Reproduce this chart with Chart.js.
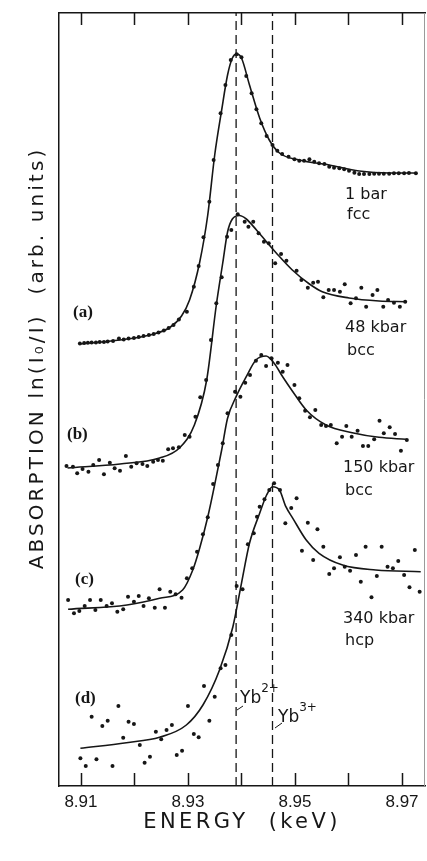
<!DOCTYPE html>
<html>
<head>
<meta charset="utf-8">
<script src="https://cdn.jsdelivr.net/npm/chart.js@4.4.1/dist/chart.umd.min.js"></script>
<style>
  html, body { margin: 0; padding: 0; background: #fff; }
</style>
</head>
<body>
<canvas id="myChart" width="427" height="861"></canvas>
<script>
// energy axis (keV)
var energyMin = 8.9059, energyMax = 8.9743;
var tickEnergies = [8.91, 8.92, 8.93, 8.94, 8.95, 8.96, 8.97];
var tickLabels = ['8.91', '', '8.93', '', '8.95', '', '8.97'];
var yMax = 77.3;

// Yb2+ / Yb3+ reference energies
var yb2Energy = 8.9390;
var yb3Energy = 8.9458;

var curveLetters = ['(a)', '(b)', '(c)', '(d)'];
var pressureLabels = [['1 bar', 'fcc'], ['48 kbar', 'bcc'], ['150 kbar', 'bcc'], ['340 kbar', 'hcp']];

// (a) 1 bar, fcc  -- measured points [keV, arb]
var dotsA = [
    [8.9098, 44.25], [8.9106, 44.3], [8.9113, 44.32], [8.9120, 44.35], [8.9128, 44.35], [8.9135, 44.4],
    [8.9143, 44.4], [8.9150, 44.45], [8.9160, 44.5], [8.9171, 44.75], [8.9180, 44.65], [8.9189, 44.75],
    [8.9199, 44.8], [8.9208, 44.9], [8.9217, 45.0], [8.9227, 45.1], [8.9236, 45.2], [8.9245, 45.35],
    [8.9255, 45.55], [8.9264, 45.8], [8.9273, 46.1], [8.9283, 46.65], [8.9298, 47.43], [8.9311, 49.93],
    [8.9320, 52.0], [8.9329, 54.87], [8.9340, 58.43], [8.9348, 62.6], [8.9361, 67.27], [8.9370, 70.1],
    [8.9380, 72.6], [8.9391, 73.17], [8.9400, 72.87], [8.9409, 71.0], [8.9419, 69.27], [8.9428, 67.67],
    [8.9437, 66.27], [8.9447, 65.0], [8.9458, 64.1], [8.9467, 63.53], [8.9476, 63.2], [8.9488, 62.93],
    [8.9499, 62.67], [8.9508, 62.53], [8.9517, 62.53], [8.9527, 62.67], [8.9536, 62.43], [8.9545, 62.27],
    [8.9555, 62.2], [8.9564, 61.93], [8.9573, 61.83], [8.9583, 61.77], [8.9592, 61.67], [8.9601, 61.53],
    [8.9611, 61.33], [8.9620, 61.2], [8.9629, 61.2], [8.9639, 61.2], [8.9648, 61.23], [8.9657, 61.23],
    [8.9666, 61.23], [8.9676, 61.23], [8.9685, 61.27], [8.9694, 61.27], [8.9704, 61.27], [8.9713, 61.3],
    [8.9726, 61.27]
];
var fitA = [
    [8.9098, 44.2], [8.9173, 44.6], [8.9229, 45.1], [8.9266, 45.85], [8.9288, 47.0], [8.9303, 48.6],
    [8.9322, 52.4], [8.9337, 57.1], [8.9350, 63.1], [8.9363, 67.6], [8.9374, 71.1], [8.9383, 72.8],
    [8.9391, 73.2], [8.9400, 72.8], [8.9415, 70.1], [8.9434, 66.8], [8.9452, 64.6], [8.9471, 63.3],
    [8.9508, 62.6], [8.9564, 62.1], [8.9620, 61.5], [8.9676, 61.3], [8.9728, 61.3]
];

// (b) 48 kbar, bcc
var dotsB = [
    [8.9073, 32.0], [8.9085, 31.93], [8.9093, 31.27], [8.9103, 31.7], [8.9114, 31.43], [8.9123, 32.1],
    [8.9134, 32.6], [8.9143, 31.17], [8.9154, 32.33], [8.9163, 31.77], [8.9173, 31.53], [8.9184, 33.0],
    [8.9194, 31.93], [8.9204, 32.27], [8.9215, 32.2], [8.9224, 32.0], [8.9235, 32.43], [8.9244, 32.6],
    [8.9253, 32.53], [8.9263, 33.67], [8.9272, 33.77], [8.9283, 33.87], [8.9294, 35.1], [8.9303, 34.93],
    [8.9314, 36.93], [8.9323, 38.87], [8.9334, 40.6], [8.9343, 44.6], [8.9353, 48.27], [8.9363, 50.87],
    [8.9373, 54.93], [8.9381, 55.6], [8.9393, 57.17], [8.9406, 56.43], [8.9413, 55.93], [8.9422, 56.43],
    [8.9432, 55.27], [8.9442, 54.43], [8.9451, 54.27], [8.9463, 52.27], [8.9474, 53.2], [8.9484, 52.53],
    [8.9503, 51.53], [8.9512, 50.6], [8.9524, 49.83], [8.9534, 50.33], [8.9543, 50.43], [8.9553, 48.87],
    [8.9563, 49.6], [8.9573, 49.6], [8.9584, 49.43], [8.9593, 50.17], [8.9604, 48.27], [8.9614, 48.77],
    [8.9624, 49.83], [8.9633, 47.93], [8.9645, 49.1], [8.9654, 49.6], [8.9665, 47.93], [8.9674, 48.6],
    [8.9685, 48.33], [8.9696, 47.93], [8.9706, 48.43]
];
var fitB = [
    [8.9075, 31.8], [8.9173, 32.2], [8.9247, 32.8], [8.9284, 33.8], [8.9312, 36.1], [8.9335, 40.6],
    [8.9353, 48.1], [8.9365, 52.3], [8.9374, 55.4], [8.9383, 56.7], [8.9396, 57.05], [8.9409, 56.7],
    [8.9428, 55.6], [8.9447, 54.4], [8.9465, 53.3], [8.9495, 51.6], [8.9527, 50.2], [8.9551, 49.43],
    [8.9601, 48.8], [8.9657, 48.5], [8.9707, 48.43]
];

// (c) 150 kbar, bcc
var dotsC = [
    [8.9076, 18.6], [8.9087, 17.27], [8.9097, 17.5], [8.9107, 18.0], [8.9117, 18.6], [8.9127, 17.6],
    [8.9137, 18.6], [8.9148, 18.0], [8.9158, 18.27], [8.9168, 17.43], [8.9179, 17.67], [8.9188, 18.93],
    [8.9199, 18.43], [8.9208, 19.0], [8.9217, 18.0], [8.9227, 18.77], [8.9238, 17.83], [8.9247, 19.67],
    [8.9257, 17.83], [8.9267, 19.43], [8.9277, 19.17], [8.9288, 18.83], [8.9298, 20.77], [8.9308, 21.77],
    [8.9317, 23.43], [8.9328, 25.17], [8.9337, 26.87], [8.9347, 30.2], [8.9356, 32.1], [8.9365, 34.27],
    [8.9374, 37.27], [8.9388, 39.43], [8.9398, 38.93], [8.9407, 40.33], [8.9416, 41.1], [8.9427, 42.53],
    [8.9437, 43.1], [8.9446, 42.0], [8.9456, 42.77], [8.9468, 42.33], [8.9477, 41.43], [8.9486, 42.1],
    [8.9499, 40.1], [8.9508, 38.77], [8.9519, 37.53], [8.9528, 36.87], [8.9538, 37.6], [8.9549, 36.1],
    [8.9558, 36.0], [8.9567, 36.1], [8.9578, 34.27], [8.9588, 34.93], [8.9596, 36.0], [8.9606, 34.93],
    [8.9617, 35.53], [8.9627, 34.0], [8.9637, 34.0], [8.9648, 34.67], [8.9658, 36.53], [8.9666, 35.27],
    [8.9677, 35.87], [8.9687, 35.2], [8.9698, 33.53], [8.9709, 34.6]
];
var fitC = [
    [8.9076, 17.67], [8.9186, 18.1], [8.9247, 18.77], [8.9290, 19.6], [8.9309, 21.6], [8.9322, 23.8],
    [8.9337, 26.9], [8.9353, 30.93], [8.9363, 33.6], [8.9374, 36.77], [8.9390, 38.93], [8.9409, 40.93],
    [8.9427, 42.6], [8.9446, 43.0], [8.9461, 42.27], [8.9477, 40.93], [8.9496, 39.43], [8.9521, 37.6],
    [8.9558, 36.1], [8.9607, 35.33], [8.9657, 34.87], [8.9707, 34.67]
];

// (d) 340 kbar, hcp
var dotsD = [
    [8.9099, 2.77], [8.9109, 2.0], [8.9120, 6.93], [8.9129, 2.67], [8.9140, 6.0], [8.9150, 6.53],
    [8.9159, 2.0], [8.9170, 8.0], [8.9179, 4.83], [8.9189, 6.43], [8.9199, 6.2], [8.9210, 4.1],
    [8.9219, 2.33], [8.9229, 2.93], [8.9240, 5.43], [8.9250, 4.67], [8.9260, 5.6], [8.9270, 6.1],
    [8.9279, 3.1], [8.9289, 3.53], [8.9300, 8.0], [8.9311, 5.2], [8.9320, 4.87], [8.9330, 10.0],
    [8.9340, 6.53], [8.9350, 8.93], [8.9361, 11.77], [8.9370, 12.1], [8.9381, 15.1], [8.9391, 20.0],
    [8.9402, 19.67], [8.9412, 24.17], [8.9423, 25.27], [8.9429, 26.93], [8.9434, 27.93], [8.9443, 28.67],
    [8.9452, 29.6], [8.9461, 30.27], [8.9472, 29.6], [8.9482, 26.27], [8.9493, 27.8], [8.9503, 28.77],
    [8.9513, 23.53], [8.9524, 26.33], [8.9534, 22.6], [8.9542, 25.67], [8.9553, 23.93], [8.9564, 21.2],
    [8.9573, 21.77], [8.9584, 22.87], [8.9593, 21.93], [8.9603, 21.53], [8.9614, 23.1], [8.9623, 20.43],
    [8.9632, 23.93], [8.9643, 18.87], [8.9653, 21.0], [8.9662, 23.93], [8.9673, 21.93], [8.9683, 21.77],
    [8.9693, 22.5], [8.9704, 21.1], [8.9714, 19.87], [8.9724, 23.6], [8.9733, 19.43]
];
var fitD = [
    [8.9099, 3.77], [8.9185, 4.33], [8.9247, 4.87], [8.9297, 6.1], [8.9328, 8.1], [8.9359, 11.6],
    [8.9384, 15.93], [8.9400, 20.27], [8.9415, 24.27], [8.9434, 27.27], [8.9447, 29.1], [8.9458, 29.93],
    [8.9471, 29.6], [8.9483, 27.93], [8.9496, 26.77], [8.9521, 24.6], [8.9545, 23.27], [8.9589, 22.1],
    [8.9651, 21.6], [8.9735, 21.43]
];

var ink = '#161616';

function toXY(arr) {
    return arr.map(function (p) { return {x: p[0], y: p[1]}; });
}

function dotSet(arr) {
    return {
        data: toXY(arr), showLine: false, pointRadius: 2, pointHoverRadius: 2,
        pointBackgroundColor: ink, pointBorderWidth: 0
    };
}

function fitSet(arr) {
    return {
        data: toXY(arr), showLine: true, pointRadius: 0, borderColor: ink,
        borderWidth: 1.6, cubicInterpolationMode: 'monotone', fill: false
    };
}

function markerSet(e) {
    return {
        data: [{x: e, y: 0}, {x: e, y: yMax}], showLine: true, pointRadius: 0,
        borderColor: ink, borderWidth: 1.3, borderDash: [9, 5]
    };
}

// ticks inward, right frame, labels, axis titles
var decorations = {
    id: 'decorations',
    afterDraw: function (chart) {
        var ctx = chart.ctx, area = chart.chartArea, xs = chart.scales.x;
        ctx.save();
        ctx.strokeStyle = ink;
        ctx.lineWidth = 1.5;
        tickEnergies.forEach(function (e) {
            var px = Math.round(xs.getPixelForValue(e)) + 0.5;
            ctx.beginPath();
            ctx.moveTo(px, area.bottom);
            ctx.lineTo(px, area.bottom - 13);
            ctx.moveTo(px, area.top);
            ctx.lineTo(px, area.top + 12);
            ctx.stroke();
        });
        ctx.strokeStyle = '#9a9a9a';
        ctx.lineWidth = 1;
        ctx.beginPath();
        ctx.moveTo(area.right - 0.5, area.top);
        ctx.lineTo(area.right - 0.5, area.bottom);
        ctx.stroke();

        ctx.fillStyle = ink;
        ctx.textAlign = 'left';
        ctx.textBaseline = 'alphabetic';

        // pressure / structure
        ctx.font = '16px "DejaVu Sans"';
        var pPos = [[345, 199, 219], [345, 332, 355], [343, 472, 495], [343, 623, 645]];
        pressureLabels.forEach(function (l, i) {
            ctx.fillText(l[0], pPos[i][0], pPos[i][1]);
            ctx.fillText(l[1], pPos[i][0] + 2, pPos[i][2]);
        });

        // curve letters
        ctx.font = 'bold 17px "Liberation Serif"';
        var lPos = [[73, 317], [67, 439], [75, 584], [75, 703]];
        curveLetters.forEach(function (t, i) {
            ctx.fillText(t, lPos[i][0], lPos[i][1]);
        });

        // Yb2+ and Yb3+
        function ybLabel(x, y, sup) {
            ctx.font = '17px "DejaVu Sans"';
            ctx.fillText('Yb', x, y);
            var w = ctx.measureText('Yb').width;
            ctx.font = '12px "DejaVu Sans"';
            ctx.fillText(sup, x + w, y - 11);
        }
        ybLabel(240, 703, '2+');
        ybLabel(278, 722, '3+');
        ctx.lineWidth = 1;
        ctx.strokeStyle = ink;
        ctx.beginPath();
        ctx.moveTo(237, 710); ctx.lineTo(243, 706);
        ctx.moveTo(275, 728); ctx.lineTo(282, 723);
        ctx.stroke();

        // x title
        ctx.font = '21px "DejaVu Sans"';
        ctx.letterSpacing = '3.4px';
        ctx.textAlign = 'center';
        ctx.fillText('ENERGY  (keV)', 242, 828);

        // y title
        ctx.translate(38, 358);
        ctx.rotate(-Math.PI / 2);
        ctx.font = '20px "DejaVu Sans"';
        ctx.letterSpacing = '3.1px';
        ctx.textBaseline = 'middle';
        ctx.fillText('ABSORPTION ln(I\u2080/I)  (arb. units)', 0, 0);
        ctx.restore();
    }
};

var ctx = document.getElementById('myChart').getContext('2d');

var myChart = new Chart(ctx, {
    type: 'scatter',
    data: {
        datasets: [
            markerSet(yb2Energy), markerSet(yb3Energy),
            fitSet(fitA), dotSet(dotsA),
            fitSet(fitB), dotSet(dotsB),
            fitSet(fitC), dotSet(dotsC),
            fitSet(fitD), dotSet(dotsD)
        ]
    },
    options: {
        responsive: false,
        animation: false,
        devicePixelRatio: 1,
        layout: {padding: {left: 0, right: 1, top: 0, bottom: 0}},
        plugins: {legend: {display: false}, tooltip: {enabled: false}},
        scales: {
            x: {
                type: 'linear', position: 'bottom', min: energyMin, max: energyMax,
                afterBuildTicks: function (scale) {
                    scale.ticks = tickEnergies.map(function (v) { return {value: v}; });
                },
                afterFit: function (scale) { scale.height = 75; },
                grid: {display: false, drawTicks: false},
                border: {display: true, color: ink, width: 1.5},
                ticks: {
                    autoSkip: false, maxRotation: 0, padding: 6, color: ink,
                    font: {family: '"Liberation Sans"', size: 17},
                    callback: function (value) {
                        var i = tickEnergies.findIndex(function (t) { return Math.abs(t - value) < 1e-6; });
                        return i < 0 ? '' : tickLabels[i];
                    }
                }
            },
            x2: {
                type: 'linear', position: 'top', min: energyMin, max: energyMax,
                afterFit: function (scale) { scale.height = 13; },
                grid: {display: false, drawTicks: false},
                border: {display: true, color: ink, width: 1.5},
                ticks: {display: false}
            },
            y: {
                type: 'linear', position: 'left', min: 0, max: yMax,
                afterFit: function (scale) { scale.width = 59; },
                grid: {display: false, drawTicks: false},
                border: {display: true, color: ink, width: 1.5},
                ticks: {display: false}
            }
        }
    },
    plugins: [decorations]
});
</script>
</body>
</html>
